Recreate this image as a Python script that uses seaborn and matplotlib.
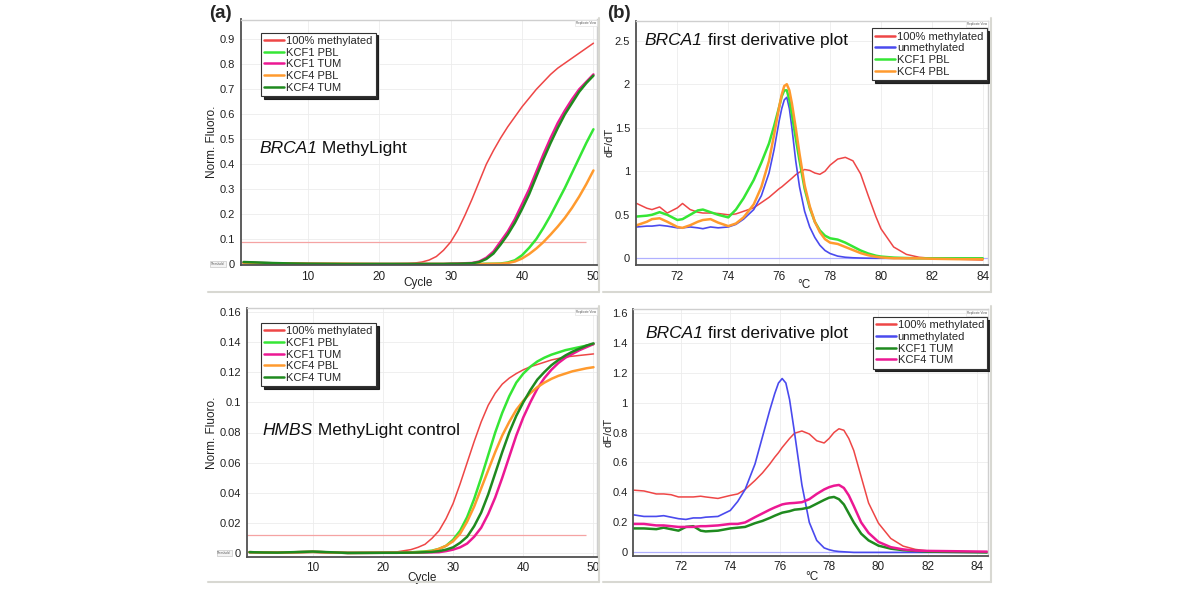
import numpy as np
import pandas as pd
import matplotlib
matplotlib.use("Agg")
import matplotlib.pyplot as plt
from matplotlib.lines import Line2D
import seaborn as sns

sns.set_theme(style="white")
plt.rcParams['font.family'] = ['Liberation Sans', 'DejaVu Sans']

# ---- amplification curves (cycles) ----
CYCLES = [1, 3, 5, 8, 10, 15, 20, 22, 24, 25, 26, 27, 28, 29, 30, 31, 32, 33, 34, 35,
          36, 37, 38, 39, 40, 41, 42, 43, 44, 45, 46, 47, 48, 49, 50]

# BRCA1 MethyLight
A_METH = [0.006, 0.005, 0.003, 0.002, 0.001, 0.001, 0.000, 0.001, 0.002, 0.004, 0.008, 0.016, 0.030, 0.055,
          0.088, 0.135, 0.195, 0.260, 0.330, 0.400, 0.455, 0.505, 0.550, 0.590, 0.630, 0.665, 0.700, 0.730,
          0.760, 0.785, 0.805, 0.825, 0.845, 0.865, 0.885]
A_KCF1_PBL = [0.005, 0.004, 0.003, 0.002, 0.001, 0.0, 0.0, 0.0, 0.0, 0.0, 0.0, 0.0, 0.0, 0.0,
              0.0, 0.0, 0.0, 0.0, 0.0, 0.001, 0.001, 0.002, 0.006, 0.015, 0.035, 0.065, 0.100, 0.145,
              0.195, 0.250, 0.305, 0.365, 0.425, 0.485, 0.540]
A_KCF1_TUM = [0.005, 0.004, 0.003, 0.002, 0.001, 0.0, 0.0, 0.0, 0.0, 0.0, 0.0, 0.0, 0.0, 0.0,
              0.001, 0.002, 0.003, 0.004, 0.010, 0.025, 0.050, 0.090, 0.130, 0.180, 0.240, 0.300, 0.370, 0.440,
              0.505, 0.565, 0.615, 0.660, 0.700, 0.730, 0.760]
A_KCF4_PBL = [0.004, 0.003, 0.003, 0.002, 0.001, 0.001, 0.0, 0.0, 0.0, 0.0, 0.0, 0.0, 0.0, 0.0,
              0.0, 0.0, 0.0, 0.0, 0.0, 0.0, 0.001, 0.001, 0.004, 0.010, 0.022, 0.040, 0.062, 0.088,
              0.118, 0.150, 0.185, 0.225, 0.270, 0.320, 0.375]
A_KCF4_TUM = [0.008, 0.006, 0.004, 0.002, 0.001, 0.0, 0.0, 0.0, 0.0, 0.0, 0.0, 0.0, 0.0, 0.0,
              0.001, 0.001, 0.002, 0.003, 0.008, 0.020, 0.042, 0.078, 0.118, 0.165, 0.220, 0.280, 0.350, 0.420,
              0.485, 0.545, 0.600, 0.645, 0.690, 0.725, 0.755]
A_THRESHOLD = 0.087

# HMBS MethyLight control
C_METH = [0.0008, 0.0006, 0.0005, 0.0007, 0.0008, 0.0003, 0.0005, 0.001, 0.0025, 0.004, 0.006, 0.010, 0.015, 0.023,
          0.033, 0.046, 0.060, 0.074, 0.087, 0.098, 0.106, 0.112, 0.116, 0.119, 0.1215, 0.1235, 0.125, 0.1265,
          0.128, 0.129, 0.130, 0.1305, 0.131, 0.1315, 0.132]
C_KCF1_PBL = [0.0008, 0.0006, 0.0005, 0.0008, 0.001, 0.0003, 0.0004, 0.0005, 0.0007, 0.001, 0.0013, 0.0018, 0.003, 0.005,
              0.009, 0.015, 0.024, 0.036, 0.050, 0.065, 0.080, 0.093, 0.104, 0.113, 0.119, 0.1235, 0.127, 0.1295,
              0.1315, 0.133, 0.1345, 0.1355, 0.1365, 0.1375, 0.1385]
C_KCF1_TUM = [0.0008, 0.0006, 0.0005, 0.0008, 0.001, 0.0003, 0.0004, 0.0004, 0.0005, 0.0005, 0.0006, 0.0007, 0.0008, 0.0015,
              0.0025, 0.004, 0.0065, 0.011, 0.017, 0.026, 0.037, 0.050, 0.064, 0.078, 0.090, 0.100, 0.109, 0.116,
              0.1215, 0.126, 0.1295, 0.132, 0.1345, 0.1365, 0.1385]
C_KCF4_PBL = [0.0008, 0.0006, 0.0005, 0.0008, 0.001, 0.0003, 0.0004, 0.0004, 0.0006, 0.0008, 0.001, 0.0015, 0.003, 0.005,
              0.008, 0.013, 0.021, 0.031, 0.043, 0.055, 0.067, 0.078, 0.087, 0.095, 0.101, 0.106, 0.110, 0.113,
              0.1155, 0.1175, 0.119, 0.1205, 0.1215, 0.1225, 0.1232]
C_KCF4_TUM = [0.0008, 0.0006, 0.0005, 0.0009, 0.0012, 0.0003, 0.0004, 0.0004, 0.0005, 0.0006, 0.0008, 0.001, 0.0015, 0.0025,
              0.004, 0.007, 0.011, 0.018, 0.027, 0.039, 0.053, 0.067, 0.080, 0.091, 0.100, 0.108, 0.115, 0.120,
              0.1245, 0.128, 0.131, 0.1335, 0.1355, 0.1375, 0.139]
C_THRESHOLD = 0.0122

# ---- first derivative melt curves ----
TEMPS_B = [70.4, 70.8, 71.0, 71.3, 71.6, 72.0, 72.2, 72.5, 72.8, 73.0, 73.3, 73.6, 74.0, 74.3, 74.6, 75.0,
           75.3, 75.6, 75.8, 76.0, 76.1, 76.2, 76.3, 76.4, 76.5, 76.65, 76.8, 77.0, 77.2, 77.4, 77.6, 77.8,
           78.0, 78.3, 78.6, 78.9, 79.2, 79.5, 79.8, 80.0, 80.5, 81.0, 81.5, 82.0, 83.0, 84.0]
B_METH = [0.63, 0.575, 0.56, 0.59, 0.52, 0.58, 0.63, 0.56, 0.53, 0.52, 0.52, 0.515, 0.50, 0.51, 0.54, 0.58,
          0.64, 0.70, 0.75, 0.80, 0.82, 0.845, 0.87, 0.895, 0.92, 0.96, 0.99, 1.02, 1.01, 0.98, 0.965, 1.00,
          1.07, 1.14, 1.16, 1.12, 0.97, 0.72, 0.48, 0.34, 0.13, 0.045, 0.012, 0.0, -0.01, -0.02]
B_UNMETH = [0.36, 0.37, 0.37, 0.38, 0.37, 0.35, 0.35, 0.36, 0.35, 0.34, 0.36, 0.35, 0.36, 0.39, 0.45, 0.56,
            0.72, 0.98, 1.25, 1.58, 1.72, 1.82, 1.85, 1.72, 1.50, 1.12, 0.82, 0.54, 0.36, 0.24, 0.15, 0.09,
            0.055, 0.025, 0.012, 0.006, 0.003, 0.001, 0.0, 0.0, 0.0, 0.0, 0.0, 0.0, 0.0, 0.0]
B_KCF1_PBL = [0.48, 0.49, 0.50, 0.53, 0.50, 0.44, 0.45, 0.50, 0.55, 0.56, 0.53, 0.50, 0.47, 0.56, 0.69, 0.90,
              1.10, 1.32, 1.52, 1.74, 1.86, 1.93, 1.93, 1.82, 1.65, 1.38, 1.12, 0.80, 0.58, 0.42, 0.32, 0.26,
              0.23, 0.215, 0.18, 0.135, 0.09, 0.055, 0.03, 0.02, 0.008, 0.003, 0.0, 0.0, 0.0, 0.0]
B_KCF4_PBL = [0.38, 0.42, 0.45, 0.46, 0.42, 0.36, 0.35, 0.38, 0.42, 0.44, 0.45, 0.41, 0.37, 0.40, 0.47, 0.62,
              0.82, 1.12, 1.42, 1.74, 1.88, 1.98, 2.00, 1.93, 1.78, 1.50, 1.20, 0.84, 0.60, 0.42, 0.30, 0.22,
              0.18, 0.165, 0.13, 0.095, 0.06, 0.035, 0.018, 0.01, 0.0, 0.0, 0.0, -0.005, -0.01, -0.01]

TEMPS_D = [70.1, 70.5, 71.0, 71.3, 71.6, 71.9, 72.2, 72.5, 72.8, 73.0, 73.5, 74.0, 74.3, 74.6, 75.0, 75.3,
           75.6, 75.8, 75.95, 76.1, 76.25, 76.4, 76.6, 76.9, 77.2, 77.5, 77.8, 78.0, 78.2, 78.4, 78.6, 78.8,
           79.0, 79.3, 79.6, 80.0, 80.5, 81.0, 81.5, 82.0, 83.0, 84.4]
D_METH = [0.415, 0.41, 0.39, 0.39, 0.385, 0.37, 0.37, 0.37, 0.375, 0.37, 0.36, 0.38, 0.39, 0.42, 0.48, 0.53,
          0.59, 0.635, 0.665, 0.70, 0.73, 0.76, 0.795, 0.81, 0.79, 0.745, 0.73, 0.76, 0.80, 0.825, 0.815, 0.76,
          0.68, 0.505, 0.33, 0.195, 0.093, 0.042, 0.02, 0.01, 0.005, 0.0]
D_UNMETH = [0.25, 0.24, 0.24, 0.245, 0.235, 0.225, 0.22, 0.23, 0.23, 0.235, 0.24, 0.28, 0.34, 0.42, 0.59, 0.77,
            0.95, 1.06, 1.13, 1.16, 1.13, 1.02, 0.80, 0.45, 0.20, 0.08, 0.03, 0.018, 0.01, 0.006, 0.004, 0.002,
            0.0, 0.0, 0.0, 0.0, 0.0, 0.0, 0.0, 0.0, 0.0, 0.0]
D_KCF1_TUM = [0.16, 0.16, 0.155, 0.165, 0.155, 0.145, 0.17, 0.175, 0.145, 0.14, 0.145, 0.16, 0.165, 0.17, 0.195, 0.21,
              0.23, 0.245, 0.255, 0.265, 0.27, 0.275, 0.285, 0.29, 0.30, 0.325, 0.35, 0.365, 0.37, 0.355, 0.32, 0.26,
              0.20, 0.125, 0.08, 0.045, 0.025, 0.015, 0.01, 0.005, 0.003, 0.0]
D_KCF4_TUM = [0.19, 0.19, 0.18, 0.18, 0.175, 0.17, 0.17, 0.17, 0.175, 0.175, 0.18, 0.19, 0.19, 0.20, 0.235, 0.26,
              0.285, 0.30, 0.31, 0.32, 0.325, 0.328, 0.33, 0.335, 0.355, 0.39, 0.42, 0.435, 0.445, 0.45, 0.43, 0.38,
              0.31, 0.20, 0.13, 0.07, 0.035, 0.02, 0.012, 0.01, 0.008, 0.005]

RED = '#ee4646'
LGREEN = '#35e635'
MAGENTA = '#ec1893'
ORANGE = '#ff9a2e'
DGREEN = '#1f8a1f'
BLUE = '#4a4aee'
FRAME = '#d8d8d2'

W, H = 1200, 589


def px_axes(fig, left, top, right, bottom):
    return fig.add_axes([left / W, 1 - bottom / H, (right - left) / W, (bottom - top) / H])


def style_axes(ax, xticks, yticks, xlim, ylim):
    ax.set_xlim(*xlim)
    ax.set_ylim(*ylim)
    ax.set_xticks(xticks)
    ax.set_yticks(yticks)
    ax.set_xticklabels([f'{t:g}' for t in xticks])
    ax.set_yticklabels([f'{t:g}' for t in yticks])
    ax.grid(True, color='#ececec', lw=0.6)
    for s in ['left', 'bottom']:
        ax.spines[s].set_color('#505050')
        ax.spines[s].set_linewidth(1.3)
    for s in ['top', 'right']:
        ax.spines[s].set_color('#cfcfcf')
        ax.spines[s].set_linewidth(1.0)
    ax.tick_params(axis='both', which='major', direction='out', length=2.5, width=1,
                   color='#303030', labelsize=8, labelcolor='#222222', pad=1.5)
    ax.tick_params(axis='x', labelsize=8.5)
    ax.text(0.997, 0.994, 'Replicate View', transform=ax.transAxes, fontsize=2.2, ha='right', va='top',
            color='#555555', bbox=dict(boxstyle='square,pad=0.3', fc='white', ec='#dddddd', lw=0.4))


def draw_series(ax, x, series):
    for name, vals, color, lw in series:
        assert len(vals) == len(x), name
        df = pd.DataFrame({'x': x, 'y': vals})
        sns.lineplot(data=df, x='x', y='y', ax=ax, color=color, lw=lw, label=name, estimator=None)
    ax.set_xlabel('')
    ax.set_ylabel('')
    handles = [Line2D([0], [0], color=c, lw=1.8) for _, _, c, _ in series]
    return handles, [s[0] for s in series]


def add_legend(ax, handles, labels, loc, anchor):
    leg = ax.legend(handles, labels, loc=loc, bbox_to_anchor=anchor, borderaxespad=0,
                    fontsize=8, frameon=True, fancybox=False, shadow={'color': '#111111', 'alpha': 0.9},
                    handlelength=1.8, handletextpad=0.15, labelspacing=0.15, borderpad=0.3)
    leg.get_frame().set_edgecolor('#333333')
    leg.get_frame().set_linewidth(0.8)
    leg.get_frame().set_facecolor('white')
    leg.get_frame().set_alpha(1)


def title_text(ax, x, y, gene, rest):
    t = ax.text(x, y, gene, transform=ax.transAxes, fontsize=12.5, style='italic', va='center', ha='left',
                color='#111111')
    ax.annotate(rest, xy=(1, 0), xycoords=t, va='bottom', ha='left', fontsize=12.5, color='#111111')


def threshold_tag(ax, y):
    ax.text(-0.045, y, 'Threshold', transform=ax.get_yaxis_transform(), fontsize=2.2, ha='right',
            va='center', color='#555555',
            bbox=dict(boxstyle='square,pad=0.3', fc='#f4f4f4', ec='#bbbbbb', lw=0.4))


def axis_labels(ax, xlabel, ylabel, xpos, ypos):
    ax.set_xlabel(xlabel, fontsize=8.5, color='#222222')
    ax.set_ylabel(ylabel, fontsize=8.5, color='#222222')
    ax.xaxis.set_label_coords(*xpos)
    ax.yaxis.set_label_coords(*ypos)
    ax.xaxis.label.set_va('center')
    ax.yaxis.label.set_va('center')


fig = plt.figure(figsize=(12, 5.89), dpi=100)

# (a) top: BRCA1 MethyLight
ax_a = px_axes(fig, 240.7, 19.5, 597, 265)
h, l = draw_series(ax_a, CYCLES, [
    ('100% methylated', A_METH, RED, 1.1),
    ('KCF1 PBL', A_KCF1_PBL, LGREEN, 1.8),
    ('KCF1 TUM', A_KCF1_TUM, MAGENTA, 1.8),
    ('KCF4 PBL', A_KCF4_PBL, ORANGE, 1.8),
    ('KCF4 TUM', A_KCF4_TUM, DGREEN, 1.8),
])
ax_a.hlines(A_THRESHOLD, 0.6, 49, color='#f5a3a3', lw=0.9, zorder=1)
style_axes(ax_a, [10, 20, 30, 40, 50], [0, 0.1, 0.2, 0.3, 0.4, 0.5, 0.6, 0.7, 0.8, 0.9], (0.6, 50.5), (-0.004, 0.98))
add_legend(ax_a, h, l, 'upper left', (0.057, 0.947))
title_text(ax_a, 0.052, 0.475, 'BRCA1', ' MethyLight')
threshold_tag(ax_a, 0.0)
axis_labels(ax_a, 'Cycle', 'Norm. Fluoro.', (0.497, -0.073), (-0.08, 0.5))

# (a) bottom: HMBS MethyLight control
ax_c = px_axes(fig, 246.7, 308.3, 597, 556.7)
h, l = draw_series(ax_c, CYCLES, [
    ('100% methylated', C_METH, RED, 1.1),
    ('KCF1 PBL', C_KCF1_PBL, LGREEN, 1.8),
    ('KCF1 TUM', C_KCF1_TUM, MAGENTA, 1.8),
    ('KCF4 PBL', C_KCF4_PBL, ORANGE, 1.8),
    ('KCF4 TUM', C_KCF4_TUM, DGREEN, 1.8),
])
ax_c.hlines(C_THRESHOLD, 0.6, 49, color='#f5a3a3', lw=0.9, zorder=1)
style_axes(ax_c, [10, 20, 30, 40, 50], [0, 0.02, 0.04, 0.06, 0.08, 0.1, 0.12, 0.14, 0.16], (0.6, 50.5), (-0.0022, 0.1622))
add_legend(ax_c, h, l, 'upper left', (0.041, 0.941))
title_text(ax_c, 0.046, 0.51, 'HMBS', ' MethyLight control')
threshold_tag(ax_c, 0.0)
axis_labels(ax_c, 'Cycle', 'Norm. Fluoro.', (0.5, -0.086), (-0.1, 0.5))

# (b) top: melt curves, PBL samples
ax_b = px_axes(fig, 635.7, 20.7, 988.3, 265)
h, l = draw_series(ax_b, TEMPS_B, [
    ('100% methylated', B_METH, RED, 1.1),
    ('unmethylated', B_UNMETH, BLUE, 1.2),
    ('KCF1 PBL', B_KCF1_PBL, LGREEN, 1.8),
    ('KCF4 PBL', B_KCF4_PBL, ORANGE, 1.8),
])
ax_b.axhline(0, color='#b0b0ff', lw=0.9, zorder=1)
style_axes(ax_b, [72, 74, 76, 78, 80, 82, 84], [0, 0.5, 1, 1.5, 2, 2.5], (70.36, 84.22), (-0.077, 2.73))
add_legend(ax_b, h, l, 'upper right', (0.995, 0.969))
title_text(ax_b, 0.026, 0.917, 'BRCA1', ' first derivative plot')
axis_labels(ax_b, '°C', 'dF/dT', (0.477, -0.082), (-0.075, 0.5))

# (b) bottom: melt curves, tumour samples
ax_d = px_axes(fig, 633.3, 309.3, 988.3, 555.7)
h, l = draw_series(ax_d, TEMPS_D, [
    ('100% methylated', D_METH, RED, 1.1),
    ('unmethylated', D_UNMETH, BLUE, 1.2),
    ('KCF1 TUM', D_KCF1_TUM, DGREEN, 1.8),
    ('KCF4 TUM', D_KCF4_TUM, MAGENTA, 1.8),
])
ax_d.axhline(0, color='#b0b0ff', lw=0.9, zorder=1)
style_axes(ax_d, [72, 74, 76, 78, 80, 82, 84], [0, 0.2, 0.4, 0.6, 0.8, 1, 1.2, 1.4, 1.6], (70.07, 84.45), (-0.022, 1.622))
add_legend(ax_d, h, l, 'upper right', (0.997, 0.969))
title_text(ax_d, 0.033, 0.9, 'BRCA1', ' first derivative plot')
axis_labels(ax_d, '°C', 'dF/dT', (0.502, -0.085), (-0.07, 0.5))
ax_b.yaxis.label.set_fontsize(8)
ax_d.yaxis.label.set_fontsize(8)

# panel frames
for x0, x1 in [(208, 599), (603, 991)]:
    for y in [292, 582]:
        fig.add_artist(Line2D([x0 / W, x1 / W], [1 - y / H, 1 - y / H], color=FRAME, lw=1.5))
for x in [599, 991]:
    for y0, y1 in [(18, 292), (306, 582)]:
        fig.add_artist(Line2D([x / W, x / W], [1 - y0 / H, 1 - y1 / H], color=FRAME, lw=1.5))

fig.text(220 / W, 1 - 13 / H, '(a)', fontsize=13.5, fontweight='bold', ha='center', va='center')
fig.text(619 / W, 1 - 13 / H, '(b)', fontsize=13.5, fontweight='bold', ha='center', va='center')

fig.savefig('out.png', dpi=100)
